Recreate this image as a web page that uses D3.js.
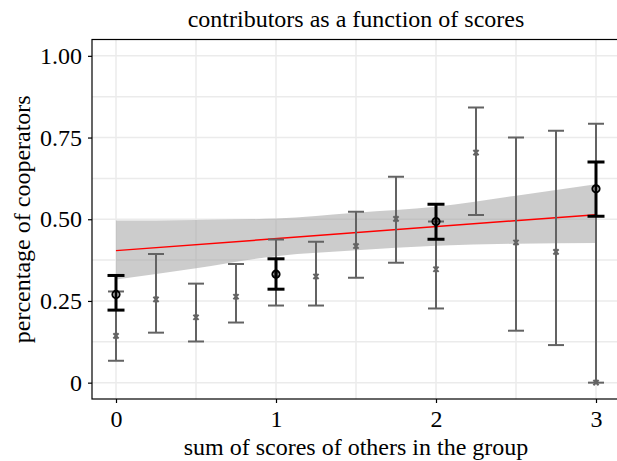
<!DOCTYPE html>
<html>
<head>
<meta charset="utf-8">
<script src="https://cdn.jsdelivr.net/npm/d3@7"></script>
<style>
  body { margin: 0; background: #fff; }
  svg { display: block; font-family: "Liberation Serif", "DejaVu Serif", serif; }
</style>
</head>
<body>
<script>
// contributors as a function of scores

// grey points: every quarter step of the sum of scores
var greyX    = [0, 0.25, 0.5, 0.75, 1, 1.25, 1.5, 1.75, 2, 2.25, 2.5, 2.75, 3];
var greyMean = [0.143, 0.255, 0.200, 0.263, 0.332, 0.325, 0.418, 0.501, 0.347, 0.704, 0.429, 0.400, 0.000];
var greyLo   = [0.067, 0.153, 0.126, 0.184, 0.236, 0.236, 0.321, 0.367, 0.227, 0.513, 0.159, 0.115, 0.000];
var greyHi   = [0.279, 0.394, 0.303, 0.363, 0.438, 0.431, 0.523, 0.630, 0.493, 0.842, 0.750, 0.771, 0.792];

// black points: integer scores
var blackX    = [0, 1, 2, 3];
var blackMean = [0.270, 0.332, 0.493, 0.593];
var blackLo   = [0.222, 0.286, 0.439, 0.509];
var blackHi   = [0.328, 0.379, 0.546, 0.675];

// linear fit and its confidence band
var fitX   = [0, 3];
var fitY   = [0.404, 0.514];
var bandX  = [0, 0.5, 1, 1.5, 2, 2.5, 3];
var bandLo = [0.316, 0.350, 0.387, 0.405, 0.419, 0.425, 0.427];
var bandHi = [0.496, 0.498, 0.502, 0.520, 0.538, 0.572, 0.607];

// ticks
var xTicks = [0, 1, 2, 3];
var xMinor = [0.5, 1.5, 2.5];
var yTicks = [0, 0.25, 0.5, 0.75, 1];
var yTickLabels = ["0", "0.25", "0.50", "0.75", "1.00"];
var yMinor = [0.125, 0.375, 0.625, 0.875];

// Width and height
var w = 617;
var h = 461;
var pLeft = 92, pRight = 620, pTop = 39.5, pBottom = 399;

// Scale functions
var xScale = d3.scaleLinear()
    .domain([-0.15, 3.15])
    .range([pLeft, pRight]);

var yScale = d3.scaleLinear()
    .domain([-0.05, 1.05])
    .range([pBottom, pTop]);

var svg = d3.select("body")
    .append("svg")
    .attr("width", w)
    .attr("height", h);

svg.append("defs").append("clipPath")
    .attr("id", "panel")
  .append("rect")
    .attr("x", pLeft)
    .attr("y", pTop)
    .attr("width", pRight - pLeft)
    .attr("height", pBottom - pTop);

var panel = svg.append("g").attr("clip-path", "url(#panel)");

// Grid lines
var grid = panel.append("g").attr("stroke", "#ebebeb").attr("stroke-width", 1.5);
grid.selectAll(".hgrid")
    .data(yTicks.concat(yMinor))
    .enter().append("line")
    .attr("x1", pLeft).attr("x2", pRight)
    .attr("y1", function(d) { return yScale(d); })
    .attr("y2", function(d) { return yScale(d); });
grid.selectAll(".vgrid")
    .data(xTicks.concat(xMinor))
    .enter().append("line")
    .attr("y1", pTop).attr("y2", pBottom)
    .attr("x1", function(d) { return xScale(d); })
    .attr("x2", function(d) { return xScale(d); });

// Confidence band
var band = bandX.map(function(x, i) { return {x: x, lo: bandLo[i], hi: bandHi[i]}; });
var area = d3.area()
    .curve(d3.curveMonotoneX)
    .x(function(d) { return xScale(d.x); })
    .y0(function(d) { return yScale(d.lo); })
    .y1(function(d) { return yScale(d.hi); });
panel.append("path")
    .datum(band)
    .attr("d", area)
    .attr("fill", "#999999")
    .attr("fill-opacity", 0.5);

// Fit line
var line = d3.line()
    .x(function(d) { return xScale(d[0]); })
    .y(function(d) { return yScale(d[1]); });
panel.append("path")
    .datum(fitX.map(function(x, i) { return [x, fitY[i]]; }))
    .attr("d", line)
    .attr("fill", "none")
    .attr("stroke", "#ff0000")
    .attr("stroke-width", 1.5);

// Error bars
function errorBars(xs, lo, hi, color, width, cap) {
    var g = panel.append("g")
        .attr("stroke", color)
        .attr("stroke-width", width)
        .attr("fill", "none");
    var d = xs.map(function(x, i) { return {x: x, lo: lo[i], hi: hi[i]}; });
    var bars = g.selectAll("g").data(d).enter().append("g");
    bars.append("line")
        .attr("x1", function(d) { return xScale(d.x); })
        .attr("x2", function(d) { return xScale(d.x); })
        .attr("y1", function(d) { return yScale(d.lo); })
        .attr("y2", function(d) { return yScale(d.hi); });
    ["lo", "hi"].forEach(function(k) {
        bars.append("line")
            .attr("x1", function(d) { return xScale(d.x) - cap / 2; })
            .attr("x2", function(d) { return xScale(d.x) + cap / 2; })
            .attr("y1", function(d) { return yScale(d[k]); })
            .attr("y2", function(d) { return yScale(d[k]); });
    });
}

errorBars(greyX, greyLo, greyHi, "#636363", 2, 16);

// grey cross marks
var cross = 2.6;
panel.append("g")
    .attr("stroke", "#636363")
    .attr("stroke-width", 2)
    .selectAll("path")
    .data(greyX.map(function(x, i) { return [x, greyMean[i]]; }))
    .enter().append("path")
    .attr("d", function(d) {
        var cx = xScale(d[0]), cy = yScale(d[1]);
        return "M" + (cx - cross) + "," + (cy - cross) + "L" + (cx + cross) + "," + (cy + cross) +
               "M" + (cx - cross) + "," + (cy + cross) + "L" + (cx + cross) + "," + (cy - cross);
    });

errorBars(blackX, blackLo, blackHi, "#000000", 3, 17);

// open circles
panel.append("g")
    .selectAll("circle")
    .data(blackX.map(function(x, i) { return [x, blackMean[i]]; }))
    .enter().append("circle")
    .attr("cx", function(d) { return xScale(d[0]); })
    .attr("cy", function(d) { return yScale(d[1]); })
    .attr("r", 3.6)
    .attr("fill", "none")
    .attr("stroke", "#000")
    .attr("stroke-width", 2);

// Panel border
svg.append("rect")
    .attr("x", pLeft)
    .attr("y", pTop)
    .attr("width", pRight - pLeft)
    .attr("height", pBottom - pTop)
    .attr("fill", "none")
    .attr("stroke", "#000")
    .attr("stroke-width", 1.2);

// Axes
var xAxis = d3.axisBottom(xScale)
    .tickValues(xTicks)
    .tickFormat(d3.format("d"))
    .tickSizeInner(4)
    .tickSizeOuter(0)
    .tickPadding(7);

var yAxis = d3.axisLeft(yScale)
    .tickValues(yTicks)
    .tickFormat(function(d, i) { return yTickLabels[i]; })
    .tickSizeInner(4)
    .tickSizeOuter(0)
    .tickPadding(6);

var gx = svg.append("g")
    .attr("transform", "translate(0," + pBottom + ")")
    .call(xAxis);
var gy = svg.append("g")
    .attr("transform", "translate(" + pLeft + ",0)")
    .call(yAxis);

[gx, gy].forEach(function(g) {
    g.select(".domain").remove();
    g.selectAll(".tick line").attr("stroke", "#000").attr("stroke-width", 1.2);
    g.selectAll(".tick text")
        .attr("fill", "#000")
        .style("font-family", "'Liberation Serif', serif")
        .style("font-size", "24px");
});

// Title and axis labels
svg.append("text")
    .attr("x", (pLeft + pRight) / 2)
    .attr("y", 27)
    .style("text-anchor", "middle")
    .style("font-size", "24px")
    .text("contributors as a function of scores");

svg.append("text")
    .attr("x", (pLeft + pRight) / 2)
    .attr("y", 455)
    .style("text-anchor", "middle")
    .style("font-size", "24px")
    .text("sum of scores of others in the group");

svg.append("text")
    .attr("transform", "rotate(-90)")
    .attr("x", -(pTop + pBottom) / 2)
    .attr("y", 30)
    .style("text-anchor", "middle")
    .style("font-size", "24px")
    .text("percentage of cooperators");
</script>
</body>
</html>
